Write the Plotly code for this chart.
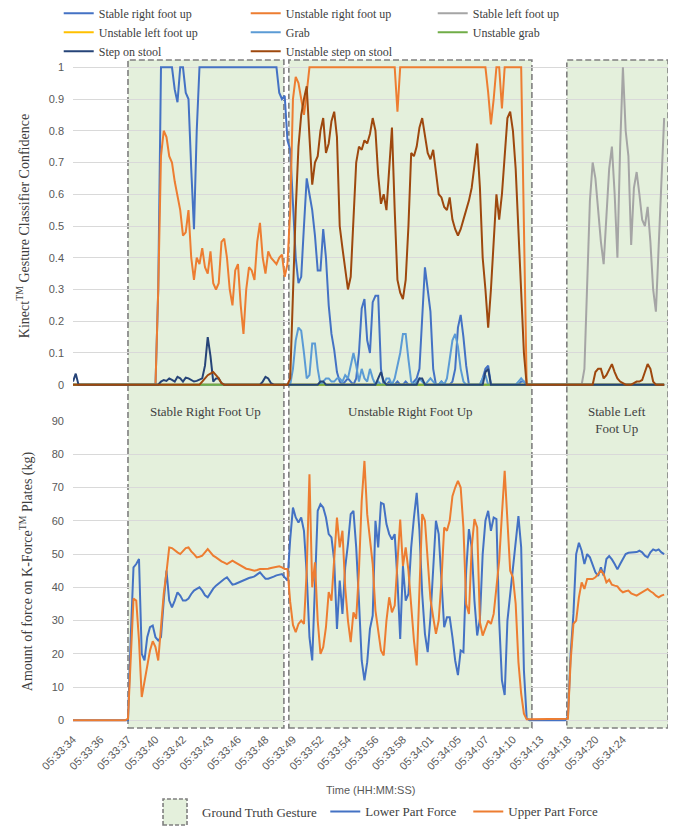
import plotly.graph_objects as go

N_SAMPLES = 216
LABEL_EVERY = 10
time_labels = ["05:33:34", "05:33:36", "05:33:37", "05:33:40", "05:33:42", "05:33:43",
               "05:33:46", "05:33:48", "05:33:49", "05:33:52", "05:33:54", "05:33:56",
               "05:33:58", "05:34:01", "05:34:05", "05:34:07", "05:34:10", "05:34:13",
               "05:34:18", "05:34:20", "05:34:24"]

# Ground-truth gesture spans (sample index units on the category axis)
gesture_names = ["Stable Right Foot Up", "Unstable Right Foot Up", "Stable Left<br>Foot Up"]
gesture_start = [20.0, 78.5, 179.6]
gesture_end = [76.7, 166.9, 216.4]

# ---- Kinect gesture classifier confidence (segments: start index, values) ----
stable_right_foot_up = [
    (31, [0.3, 1, 1, 1, 1, 1, 0.93, 0.89, 1, 1, 0.92, 0.9, 0.68, 0.49, 0.8]),
    (46, [1, 1, 1, 1, 1, 1, 1, 1, 1, 1, 1, 1, 1, 1, 1, 1, 1, 1, 1, 1, 1, 1, 1, 1, 1, 1, 1, 1, 1]),
    (75, [0.92, 0.9, 0.91, 0.77, 0.74]),
    (80, [0.55, 0.4, 0.32, 0.34, 0.5, 0.65, 0.6, 0.55, 0.47, 0.36]),
    (90, [0.36, 0.49, 0.4, 0.25, 0.16, 0.11, 0.04, 0.01, 0, 0.01]),
    (100, [0.02, 0.01, 0, 0.02, 0.1, 0.24, 0.27, 0.14, 0.1, 0.26]),
    (110, [0.28, 0.28, 0.05, 0, 0, 0.01, 0, 0, 0.01, 0]),
    (120, [0, 0.01, 0, 0, 0.01, 0.02, 0.05, 0.2, 0.37, 0.3]),
    (130, [0.23, 0.05, 0, 0, 0.01, 0, 0, 0, 0.01, 0.05]),
    (140, [0.18, 0.22, 0.15, 0.06, 0, 0, 0, 0, 0, 0.02]),
    (150, [0.05, 0.06, 0]),
    (163, [0.01, 0.01]),
]
unstable_right_foot_up = [
    (31, [0.3, 0.72, 0.8, 0.78, 0.72, 0.7, 0.64, 0.6, 0.55]),
    (40, [0.47, 0.48, 0.55, 0.4, 0.33, 0.4, 0.38, 0.43, 0.37, 0.35]),
    (50, [0.42, 0.32, 0.3, 0.32, 0.45, 0.46, 0.4, 0.3, 0.25, 0.36]),
    (60, [0.38, 0.25, 0.16, 0.3, 0.37, 0.36, 0.33, 0.45, 0.51, 0.4]),
    (70, [0.35, 0.42, 0.4, 0.39, 0.38, 0.4, 0.41, 0.34, 0.38, 0.55]),
    (80, [0.9, 0.97, 0.95, 0.9, 0.85, 0.92, 1, 1, 1, 1]),
    (90, [1, 1, 1, 1, 1, 1, 1, 1, 1, 1]),
    (100, [1, 1, 1, 1, 1, 1, 1, 1, 1, 1]),
    (110, [1, 1, 1, 1, 1, 1, 1, 1, 0.86, 1]),
    (120, [1, 1, 1, 1, 1, 1, 1, 1, 1, 1]),
    (130, [1, 1, 1, 1, 1, 1, 1, 1, 1, 1]),
    (140, [1, 1, 1, 1, 1, 1, 1, 1, 1, 1]),
    (150, [1, 0.92, 0.82, 0.9, 1, 1, 0.87, 1, 1, 1]),
    (160, [1, 1, 1, 1, 0.5, 0]),
]
stable_left_foot_up = [
    (185, [0, 0.05, 0.3, 0.58, 0.7]),
    (190, [0.65, 0.55, 0.45, 0.38, 0.55, 0.68, 0.75, 0.6, 0.4, 0.75]),
    (200, [1.0, 0.8, 0.72, 0.44, 0.62, 0.67, 0.6, 0.52, 0.5, 0.56]),
    (210, [0.45, 0.3, 0.23, 0.45, 0.62, 0.84]),
]
unstable_left_foot_up = []
grab = [
    (80, [0.05, 0.14, 0.18, 0.17, 0.1, 0.02, 0.03, 0.13, 0.13, 0.05]),
    (90, [0, 0.01, 0.02, 0.02, 0.01, 0.01, 0.02, 0.02, 0.01, 0.03]),
    (100, [0.02, 0.06, 0.1, 0.06, 0.01, 0.05, 0.02, 0.01, 0.05, 0.02]),
    (110, [0, 0.01, 0, 0, 0.02, 0.02, 0, 0.02, 0.06, 0.1]),
    (120, [0.16, 0.16, 0.08, 0.01, 0, 0.01, 0.02, 0.01, 0, 0.01]),
    (130, [0.02, 0.01, 0, 0, 0.01, 0, 0.02, 0.08, 0.14, 0.16]),
    (140, [0.12, 0.05, 0.01, 0, 0, 0, 0, 0, 0, 0.02]),
    (150, [0.03, 0]),
    (162, [0.01, 0.02, 0.01]),
]
unstable_grab = []
step_on_stool = [
    (0, [0.01, 0.035, 0.0]),
    (32, [0.01, 0.015, 0.012, 0.02, 0.015, 0.01, 0.025, 0.02]),
    (40, [0.01, 0.022, 0.02, 0.015, 0.01, 0.012, 0.015, 0.02, 0.06, 0.15]),
    (50, [0.09, 0.01, 0.02, 0.02, 0.005]),
    (69, [0.01, 0.025, 0.02, 0.005]),
    (90, [0.01, 0.01]),
    (111, [0.02, 0.04, 0.01]),
    (126, [0.02, 0.02]),
    (150, [0.04, 0.05]),
]
unstable_step_on_stool = [
    (47, [0.01, 0.02, 0.03, 0.035, 0.04, 0.03, 0.02, 0.005]),
    (79, [0.02]),
    (80, [0.3, 0.55, 0.75, 0.85, 0.9, 0.94, 0.78, 0.63, 0.7, 0.72]),
    (90, [0.8, 0.84, 0.73, 0.76, 0.83, 0.86, 0.78, 0.5, 0.43, 0.36]),
    (100, [0.3, 0.34, 0.5, 0.7, 0.75, 0.74, 0.77, 0.76, 0.79, 0.84]),
    (110, [0.8, 0.66, 0.57, 0.6, 0.55, 0.68, 0.81, 0.55, 0.33, 0.29]),
    (120, [0.27, 0.33, 0.5, 0.73, 0.72, 0.75, 0.81, 0.84, 0.78, 0.73]),
    (130, [0.71, 0.74, 0.67, 0.6, 0.59, 0.56, 0.55, 0.59, 0.52, 0.49]),
    (140, [0.47, 0.49, 0.52, 0.55, 0.58, 0.62, 0.7, 0.76, 0.62, 0.4]),
    (150, [0.3, 0.18, 0.3, 0.45, 0.6, 0.52, 0.6, 0.72, 0.84, 0.86]),
    (160, [0.8, 0.68, 0.5, 0.32, 0.1, 0]),
    (190, [0.04, 0.05, 0.05, 0.02, 0.03, 0.05, 0.065, 0.04, 0.02, 0.01]),
    (200, [0.005, 0, 0, 0, 0.005, 0.01, 0.01, 0.015, 0.04, 0.065]),
    (210, [0.05, 0.01]),
]

# ---- K-Force plates (kg) ----
lower_part_force = [
    (20, [0, 25, 46, 47, 48.5, 20, 18, 25, 28, 28.5]),
    (30, [25, 24, 25, 36, 45, 36, 34, 36, 38.5, 37.5]),
    (40, [36, 36, 36.6, 38, 39, 39.5, 40, 39, 37.6, 37]),
    (50, [38.5, 39.6, 40.5, 41.2, 42, 42.5, 43, 41.8, 40.8, 41]),
    (60, [41.4, 41.8, 42.2, 42.6, 42.8, 43, 43.3, 43.9, 44.5, 43.5]),
    (70, [42.6, 42.6, 42.8, 43.2, 43.6, 43.8, 44, 43, 42, 54.5]),
    (80, [64, 61, 59.5, 61, 57, 44, 25, 18, 39.6, 63]),
    (90, [65, 64, 61, 56, 55, 48, 27.5, 42, 32, 46]),
    (100, [53, 62, 63, 52, 36, 18, 12, 17.5, 27.5, 31.5]),
    (110, [60, 52, 65.4, 65, 59, 56, 54.4, 56, 42, 24.5]),
    (120, [46.4, 36, 38, 52, 61, 68.4, 57, 38, 26, 20.5]),
    (130, [31, 44.4, 60, 56, 40, 28, 31, 31, 25, 18]),
    (140, [13.6, 21, 20.5, 45, 57.5, 52, 36, 25.5, 30.5, 50]),
    (150, [60, 63, 57, 61, 60.5, 30, 12, 7.6, 30, 38]),
    (160, [44.4, 53, 61.4, 52, 15, 0.6]),
    (180, [1, 20, 32, 50, 53.4, 51, 47, 50, 49, 47]),
    (190, [44.5, 43.4, 46, 43.5, 48.5, 49.4, 48.4, 47, 45.4, 47]),
    (200, [48.4, 50, 50.4, 50.4, 50.4, 50.6, 51, 50.5, 49.5, 49]),
    (210, [50.5, 51.4, 51, 51.4, 50.5, 50]),
]
upper_part_force = [
    (20, [0.5, 20, 36.6, 36, 24, 7, 12, 17, 21, 23.8]),
    (30, [22, 18, 28, 38, 44.5, 52, 51.8, 51, 50.5, 50]),
    (40, [51, 51.8, 52, 50.8, 50, 49, 49.2, 49.5, 50.5, 51.5]),
    (50, [50.5, 49.5, 49, 48.3, 47.8, 47.4, 47, 47.5, 48, 47.5]),
    (60, [47, 46.5, 46, 45.6, 45.4, 45.2, 45, 45.2, 45.5, 45.5]),
    (70, [45.5, 45.6, 45.8, 46, 46.2, 46.3, 46, 45.5, 45.5, 35.6]),
    (80, [28.7, 26.5, 29, 30, 29, 45, 74, 40, 47.5, 30]),
    (90, [20, 22, 28, 38.6, 36, 50, 61, 52, 57, 40]),
    (100, [30, 23.5, 32.5, 30.5, 45, 66, 78, 62, 54, 47]),
    (110, [33, 27, 21, 19.5, 30, 37, 32.5, 34.5, 48, 60.4]),
    (120, [46.4, 52, 45, 33, 24, 16.5, 42, 62, 60, 47]),
    (130, [36.5, 31, 26, 30, 42, 58, 57, 60, 67.4, 70]),
    (140, [72, 70, 58, 35, 32, 52, 60.5, 58, 29.5, 25.5]),
    (150, [28, 30, 29, 32, 40, 48, 62, 75, 60, 45]),
    (160, [43, 35, 17.5, 8, 2, 0.3, 0.3, 0.3, 0.3, 0.3]),
    (170, [0.3, 0.3, 0.3, 0.3, 0.3, 0.3, 0.3, 0.3, 0.3, 0.3]),
    (180, [0.5, 18, 29, 30, 37, 41.5, 39.5, 42.5, 42.5, 42.5]),
    (190, [43, 44, 45, 44, 41.5, 42.3, 40.8, 40.5, 40.3, 39.2]),
    (200, [38.5, 38.8, 39, 38.2, 37.8, 37.5, 38, 38.5, 39, 39.5]),
    (210, [38.8, 38.3, 37.5, 37, 37.5, 37.8]),
]


def build(segments):
    out = [0.0] * N_SAMPLES
    for start, vals in segments:
        for k, v in enumerate(vals):
            out[start + k] = v
    return out


sample_index = list(range(N_SAMPLES))

top_series = [
    ("Stable right foot up", "#4472C4", stable_right_foot_up),
    ("Unstable right foot up", "#ED7D31", unstable_right_foot_up),
    ("Stable left foot up", "#A5A5A5", stable_left_foot_up),
    ("Unstable left foot up", "#FFC000", unstable_left_foot_up),
    ("Grab", "#5B9BD5", grab),
    ("Unstable grab", "#70AD47", unstable_grab),
    ("Step on stool", "#264478", step_on_stool),
    ("Unstable step on stool", "#9E480E", unstable_step_on_stool),
]
bottom_series = [
    ("Lower Part Force", "#4472C4", lower_part_force),
    ("Upper Part Force", "#ED7D31", upper_part_force),
]

SERIF = "Liberation Serif"
SANS = "Liberation Sans"
TEXT_DARK = "#404040"
TEXT_GRAY = "#595959"
GRID = "#D9D9D9"
BOX_FILL = "#E4F0DC"
BOX_LINE = "#7F7F7F"

fig = go.Figure()
for name, color, segs in top_series:
    fig.add_trace(go.Scatter(x=sample_index, y=build(segs), mode="lines", name=name,
                             line=dict(color=color, width=2), xaxis="x", yaxis="y",
                             legend="legend"))
for name, color, segs in bottom_series:
    fig.add_trace(go.Scatter(x=sample_index, y=build(segs), mode="lines", name=name,
                             line=dict(color=color, width=2), xaxis="x2", yaxis="y2",
                             legend="legend2"))

x_range = [0, max(gesture_end)]
shapes = []
annotations = []
for name, s, e in zip(gesture_names, gesture_start, gesture_end):
    shapes.append(dict(type="rect", xref="x2", yref="paper", x0=s, x1=e, y0=-0.0092, y1=1.0092,
                       fillcolor=BOX_FILL, line=dict(color=BOX_LINE, width=1.6, dash="6px,3px"),
                       layer="below"))
    annotations.append(dict(text=name, xref="x2", yref="paper", x=(s + e) / 2, y=0.488,
                            xanchor="center", yanchor="top", showarrow=False,
                            font=dict(family=SERIF, size=13, color=TEXT_DARK)))

# Ground truth legend swatch (drawn like the reference legend)
shapes.append(dict(type="rect", xref="paper", yref="paper", x0=0.1513, x1=0.1916,
                   y0=-0.157, y1=-0.1174, fillcolor=BOX_FILL,
                   line=dict(color=BOX_LINE, width=1.6, dash="4px,2px")))
annotations.append(dict(text="Ground Truth Gesture", xref="paper", yref="paper", x=0.2134,
                        y=-0.1372, xanchor="left", yanchor="middle", showarrow=False,
                        font=dict(family=SERIF, size=13, color=TEXT_DARK)))
annotations.append(dict(text="Time (HH:MM:SS)", xref="paper", yref="paper", x=0.5,
                        y=-0.1037, xanchor="center", yanchor="middle", showarrow=False,
                        font=dict(family=SANS, size=11, color=TEXT_GRAY)))

tick_font = dict(family=SANS, size=11, color=TEXT_GRAY)

fig.update_layout(
    width=686, height=827,
    margin=dict(l=73, r=18, t=66, b=105, autoexpand=False),
    paper_bgcolor="white", plot_bgcolor="rgba(0,0,0,0)",
    showlegend=True,
    xaxis=dict(domain=[0, 1], anchor="y", range=x_range, showticklabels=False,
               showgrid=False, zeroline=False, showline=False, ticks=""),
    yaxis=dict(domain=[0.5122, 1], anchor="x", range=[-0.004, 1.004], tick0=0, dtick=0.1,
               gridcolor=GRID, gridwidth=1, zeroline=False, showline=False,
               tickfont=tick_font, ticklabelstandoff=8,
               title=dict(text="Kinect<sup>TM</sup> Gesture Classifier Confidence",
                          font=dict(family=SERIF, size=14, color=TEXT_DARK), standoff=15)),
    xaxis2=dict(domain=[0, 1], anchor="y2", range=x_range,
                tickvals=[i * LABEL_EVERY for i in range(len(time_labels))],
                ticktext=time_labels, tickangle=-45, tickfont=tick_font,
                showgrid=False, zeroline=False, showline=False, ticks="",
                ticklabelstandoff=8),
    yaxis2=dict(domain=[0, 0.4588], anchor="x2", range=[-0.5, 90], tick0=0, dtick=10,
                gridcolor=GRID, gridwidth=1, zeroline=False, showline=False,
                tickfont=tick_font, ticklabelstandoff=8,
                title=dict(text="Amount of force on K-Force<sup>TM</sup> Plates (kg)",
                           font=dict(family=SERIF, size=14, color=TEXT_DARK), standoff=15)),
    legend=dict(orientation="h", x=-0.024, y=1.1025, xanchor="left", yanchor="top",
                entrywidth=142, entrywidthmode="pixels", traceorder="normal",
                font=dict(family=SERIF, size=12, color=TEXT_DARK),
                bgcolor="rgba(0,0,0,0)", borderwidth=0),
    legend2=dict(orientation="h", x=0.424, y=-0.1135, xanchor="left", yanchor="top",
                 entrywidth=98, entrywidthmode="pixels", traceorder="normal",
                 font=dict(family=SERIF, size=13, color=TEXT_DARK),
                 bgcolor="rgba(0,0,0,0)", borderwidth=0),
    shapes=shapes,
    annotations=annotations,
)

fig.write_html("out.html")
